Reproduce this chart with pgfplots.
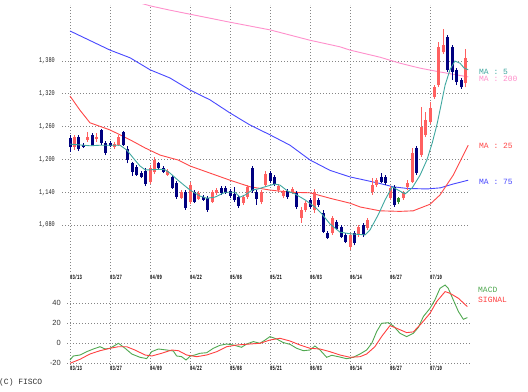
\documentclass[border=0pt]{standalone}
\usepackage{fontspec}
\setmainfont{Liberation Sans}
\newfontfamily\ylabfont[FakeStretch=0.72]{Liberation Mono}
\newfontfamily\xlabfont[FakeStretch=0.6]{Liberation Mono}
\newfontfamily\lblfont{Liberation Mono}
\usepackage{pgfplots}
\usepackage{pgfplotstable}
\pgfplotsset{compat=1.18}
\definecolor{cdown}{HTML}{000080}
\definecolor{cup}{HTML}{FF6060}
\definecolor{cgreen}{HTML}{2E8B2E}
\definecolor{ma5}{HTML}{40A8A0}
\definecolor{ma25}{HTML}{FF4848}
\definecolor{ma75}{HTML}{4848FF}
\definecolor{ma200}{HTML}{FF90CC}
\definecolor{macdg}{HTML}{50A850}
\definecolor{sigr}{HTML}{FF4040}
\definecolor{gridc}{HTML}{858585}

\pgfplotstableread{
i o h l c
0 1239 1245 1214 1223
2 1241 1245 1215 1219
3 1226 1230 1221 1223
5 1245 1248 1225 1226
7 1254 1256 1226 1230
8 1230 1234 1208 1212
9 1230 1234 1223 1225
12 1250 1252 1225 1226
13 1219 1225 1193 1199
14 1193 1195 1170 1177
15 1186 1190 1170 1172
16 1175 1179 1166 1168
17 1179 1184 1151 1155
20 1193 1195 1181 1184
21 1184 1188 1175 1177
23 1168 1172 1146 1148
24 1157 1161 1128 1131
26 1140 1144 1108 1111
28 1140 1144 1120 1122
30 1131 1135 1124 1126
31 1129 1133 1104 1108
34 1148 1151 1135 1139
35 1148 1151 1137 1139
36 1142 1146 1129 1133
37 1137 1150 1122 1126
38 1131 1135 1111 1115
41 1184 1188 1139 1142
42 1140 1144 1117 1128
45 1175 1179 1157 1161
46 1168 1172 1151 1155
49 1142 1146 1128 1131
51 1139 1142 1109 1113
54 1126 1129 1109 1113
56 1126 1129 1113 1117
57 1102 1108 1065 1067
58 1065 1069 1055 1056
60 1086 1089 1071 1073
61 1076 1080 1056 1058
62 1062 1065 1047 1049
64 1065 1069 1043 1047
66 1080 1084 1058 1062
70 1168 1175 1157 1159
71 1168 1172 1153 1157
73 1150 1153 1113 1117
78 1221 1225 1172 1175
85 1424 1428 1360 1364
86 1406 1409 1345 1360
87 1364 1367 1336 1342
88 1345 1349 1329 1332
}\downtab

\pgfplotstableread{
i o h l c
1 1223 1245 1217 1241
4 1236 1250 1232 1241
6 1237 1248 1232 1241
10 1223 1232 1219 1228
11 1226 1245 1225 1241
18 1159 1190 1155 1184
19 1177 1204 1173 1199
22 1172 1182 1170 1179
25 1129 1144 1128 1140
27 1122 1159 1118 1153
29 1128 1142 1126 1139
32 1122 1144 1120 1140
33 1139 1148 1135 1144
39 1120 1135 1117 1131
40 1131 1153 1128 1150
43 1122 1144 1118 1140
44 1153 1179 1150 1173
47 1144 1155 1140 1151
48 1133 1144 1129 1140
50 1140 1150 1137 1146
52 1093 1113 1084 1108
53 1108 1124 1104 1120
55 1108 1146 1102 1140
59 1065 1097 1062 1093
63 1040 1065 1034 1062
65 1062 1080 1058 1076
67 1075 1093 1071 1089
68 1140 1166 1135 1153
69 1153 1166 1150 1162
72 1129 1151 1126 1148
75 1129 1142 1126 1139
76 1150 1162 1144 1157
77 1159 1221 1157 1212
79 1208 1296 1204 1259
80 1245 1287 1241 1272
81 1268 1305 1265 1294
82 1314 1336 1311 1332
83 1336 1415 1332 1406
84 1396 1439 1393 1409
89 1340 1402 1332 1385
}\uptab

\pgfplotstableread{
i o h l c
74 1122 1131 1118 1129
}\greentab

\pgfplotsset{
  wick/.style={draw=none, no markers, forget plot, error bars/.cd, y dir=plus, y explicit, error mark=none, error bar style={line width=0.9bp, draw=#1, solid}},
  body/.style={draw=none, no markers, forget plot, error bars/.cd, y dir=plus, y explicit, error mark=none, error bar style={line width=3bp, draw=#1, solid}},
  chartgrid/.style={
    axis line style={draw=none}, major tick length=0pt,
    grid=major, major grid style={draw=gridc, line width=0.9bp, dash pattern=on 0.9bp off 2.1bp},
    xtick={0,9,...,81},
    xticklabels={03/13,03/27,04/09,04/22,05/08,05/21,06/03,06/14,06/27,07/10},
  },
}

\begin{document}
\begin{tikzpicture}
\path[use as bounding box, fill=white] (0,0) rectangle (528bp,392bp);

% ---------------- price panel ----------------
\begin{axis}[
  chartgrid,
  at={(62bp,120bp)}, anchor=south west, scale only axis,
  width=408bp, height=267bp,
  xmin=-1.8, xmax=90, ymin=994.1, ymax=1482.5,
  ytick={1080,1140,1200,1260,1320,1380},
  yticklabels={{1,080},{1,140},{1,200},{1,260},{1,320},{1,380}},
  xticklabel style={font=\xlabfont\bfseries\fontsize{6.5}{6.5}\selectfont, anchor=north west, inner sep=0pt, yshift=-3bp},
  yticklabel style={font=\ylabfont\fontsize{7.3}{7.3}\selectfont, anchor=east, inner sep=0pt, xshift=-7bp, text=black!85},
]
\addplot[ma200, line width=0.9bp] coordinates {(15,1488)(18,1481)(22.5,1473)(36,1451)(45,1437)(54,1418)(60.75,1406)(63,1400)(69.75,1387)(74.25,1376)(78.75,1367)(83.25,1360)(89.6,1351)};
\addplot[ma75, line width=0.9bp] coordinates {(0,1435)(9,1400)(13.5,1386)(18,1364)(22.5,1349)(27,1327)(31.5,1309)(36,1285)(40.5,1263)(45,1245)(49.5,1226)(54,1199)(58.5,1180)(63,1168)(65.3,1164)(69.75,1156)(72.7,1150)(75.8,1147)(80.3,1146)(83.3,1148)(86.2,1155)(89.6,1162)};
\addplot[ma25, line width=0.9bp] coordinates {(0,1316)(2.25,1290)(4.5,1267)(9,1254)(13.5,1236)(16.9,1221)(20.25,1208)(24.3,1199)(27,1188)(31.5,1175)(36,1162)(40.5,1150)(45,1144)(49.5,1140)(54,1139)(58.5,1129)(63,1120)(65.3,1113)(69.75,1106)(74.25,1105)(77.2,1106)(81,1118)(83.25,1135)(86.2,1171)(89.6,1226)};

\addplot[wick=cdown] table[x=i, y=l, y error plus expr=\thisrow{h}-\thisrow{l}] {\downtab};
\addplot[body=cdown] table[x=i, y=c, y error plus expr=\thisrow{o}-\thisrow{c}] {\downtab};
\addplot[wick=cup] table[x=i, y=l, y error plus expr=\thisrow{h}-\thisrow{l}] {\uptab};
\addplot[body=cup] table[x=i, y=o, y error plus expr=\thisrow{c}-\thisrow{o}] {\uptab};
\addplot[wick=cgreen] table[x=i, y=l, y error plus expr=\thisrow{h}-\thisrow{l}] {\greentab};
\addplot[body=cgreen] table[x=i, y=o, y error plus expr=\thisrow{c}-\thisrow{o}] {\greentab};

\addplot[ma5, line width=0.9bp] coordinates {(0,1228)(4.5,1225)(6.75,1226)(11.25,1226)(12.8,1217)(14.6,1199)(15.75,1188)(16.9,1181)(18,1181)(20.25,1182)(21.4,1181)(22.5,1175)(24.3,1162)(27,1144)(29.25,1133)(30.8,1129)(32.6,1131)(34.9,1140)(37.1,1140)(38.25,1131)(39.4,1135)(41,1144)(42.3,1146)(43.9,1150)(46.1,1155)(47.25,1153)(49,1142)(50.6,1137)(52.9,1126)(55.1,1113)(56.7,1100)(58.5,1082)(60.75,1067)(63,1064)(66.4,1062)(67.5,1071)(69.3,1098)(70.9,1126)(72.5,1150)(73.8,1144)(75.4,1137)(77,1148)(78.75,1171)(80.3,1199)(81.5,1230)(82.6,1265)(83.5,1300)(84.4,1336)(85.5,1364)(86.6,1380)(87.75,1376)(88.7,1367)(89.6,1364)};
\end{axis}

% ---------------- MACD panel ----------------
\begin{axis}[
  chartgrid,
  at={(67bp,27.5bp)}, anchor=south west, scale only axis,
  width=403bp, height=81.5bp,
  xmin=-0.675, xmax=90, ymin=-21.2, ymax=60.3,
  ytick={-20,0,20,40}, yticklabels={-20,0,20,40},
  xticklabel style={font=\xlabfont\bfseries\fontsize{6.5}{6.5}\selectfont, anchor=north west, inner sep=0pt, yshift=-1bp},
  yticklabel style={font=\fontsize{7.5}{7.5}\selectfont, anchor=east, inner sep=0pt, xshift=-6bp, text=black!80},
]
\addplot[macdg, line width=0.9bp] coordinates {(0,-16.7)(0.75,-12.7)(2.25,-11.7)(3.75,-8.4)(5.25,-5.7)(6.75,-3.4)(7.9,-5.7)(9,-5)(10.9,0)(12.4,-5)(13.9,-10.7)(15.75,-14)(17.25,-15.3)(18.4,-8.3)(19.9,-5.7)(21.75,-6.7)(23.25,-7.7)(24,-12.7)(25.1,-13.3)(26.1,-16.7)(27.1,-12.7)(28.1,-11.7)(29.25,-10)(30.75,-9.4)(32.25,-5)(33.75,-2)(35.25,-0.7)(36.75,-1.7)(38.6,-4)(39.75,-0.7)(41.25,1.7)(42.75,0)(43.9,3.3)(45,6.7)(46.5,4.3)(48,0.7)(49.5,-1)(51,-5)(52.5,-7.4)(54,-6.7)(55.1,-2.7)(56.25,-6.7)(57.75,-14)(58.9,-12)(60.4,-13.4)(62.25,-15.4)(63.75,-14)(65.25,-10.7)(66.75,-6.7)(67.9,0)(69,11.7)(70.1,20)(71.6,20.6)(72.75,17.4)(74.25,10)(75.75,6.7)(77.25,10)(78.4,16)(79.5,26.7)(81,35)(82.1,43.3)(83.25,55)(84.4,58.3)(85.1,55)(86.25,43.3)(87.4,31.7)(88.5,24)(89.4,25.7)};
\addplot[sigr, line width=0.9bp] coordinates {(0,-20)(2.25,-16)(4.5,-10.7)(6.75,-7.4)(9,-5)(10.9,-3.4)(12.75,-3.4)(14.6,-6.7)(16.9,-11.7)(18.4,-12.7)(20.6,-10)(22.9,-6.7)(24.4,-7.4)(26.25,-11.7)(28.5,-13.4)(30.75,-11.7)(33,-8.4)(35.25,-3.4)(37.5,-1.7)(40.5,-0.7)(42.75,0)(45,3.3)(47.25,5)(49.5,2.3)(51.75,-1.7)(54,-5)(56.25,-5.7)(58.5,-8.4)(60.75,-11.7)(63,-14)(65.25,-13.4)(66.75,-10.7)(68.6,-3.4)(70.1,6.7)(72,17.7)(73.5,15)(75.75,10.7)(77.25,11.4)(79.1,20)(81,30)(82.5,41.7)(84.4,51.7)(85.5,50)(87.4,45)(89.4,36.7)};
\end{axis}

% ---------------- labels ----------------
\begin{scope}[every node/.style={anchor=west, inner sep=0pt, font=\lblfont\fontsize{8}{8}\selectfont}]
\node[text=ma5]   at (479bp,320.5bp) {MA : 5};
\node[text=ma200] at (479bp,313bp)   {MA : 200};
\node[text=ma25]  at (479bp,246bp)   {MA : 25};
\node[text=ma75]  at (479bp,210bp)   {MA : 75};
\node[text=macdg] at (478bp,102bp)   {MACD};
\node[text=sigr]  at (478bp,92bp)    {SIGNAL};
\node[text=black!80] at (-1bp,10bp)  {(C) FISCO};
\end{scope}
\end{tikzpicture}
\end{document}
